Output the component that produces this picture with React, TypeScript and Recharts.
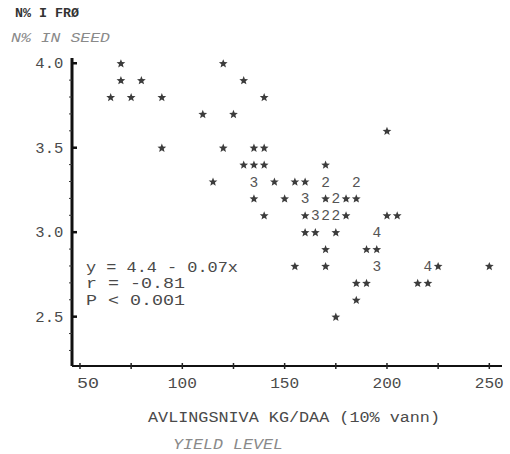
import React from 'react';
import { ScatterChart, Scatter, XAxis, YAxis } from 'recharts';

// Yield level (kg/daa) of each plotted symbol
const yieldLevel = [
  70, 120,
  70, 80, 130,
  65, 75, 90, 140,
  110, 125,
  200,
  90, 120, 135, 140,
  130, 135, 140, 170,
  115, 135, 145, 155, 160, 170, 185,
  135, 150, 160, 170, 175, 180, 185,
  140, 160, 165, 170, 175, 180, 200, 205,
  160, 165, 175, 195,
  170, 190, 195,
  155, 170, 195, 220, 225, 250,
  185, 190, 215, 220,
  185,
  175,
];
// N % in seed of each plotted symbol
const nInSeed = [
  4.0, 4.0,
  3.9, 3.9, 3.9,
  3.8, 3.8, 3.8, 3.8,
  3.7, 3.7,
  3.6,
  3.5, 3.5, 3.5, 3.5,
  3.4, 3.4, 3.4, 3.4,
  3.3, 3.3, 3.3, 3.3, 3.3, 3.3, 3.3,
  3.2, 3.2, 3.2, 3.2, 3.2, 3.2, 3.2,
  3.1, 3.1, 3.1, 3.1, 3.1, 3.1, 3.1, 3.1,
  3.0, 3.0, 3.0, 3.0,
  2.9, 2.9, 2.9,
  2.8, 2.8, 2.8, 2.8, 2.8, 2.8,
  2.7, 2.7, 2.7, 2.7,
  2.6,
  2.5,
];
// number of observations at each symbol (1 = star, >1 printed as digit)
const pointCount = [
  1, 1,
  1, 1, 1,
  1, 1, 1, 1,
  1, 1,
  1,
  1, 1, 1, 1,
  1, 1, 1, 1,
  1, 3, 1, 1, 1, 2, 2,
  1, 1, 3, 1, 2, 1, 1,
  1, 1, 3, 2, 2, 1, 1, 1,
  1, 1, 1, 4,
  1, 1, 1,
  1, 1, 3, 4, 1, 1,
  1, 1, 1, 1,
  1,
  1,
];

const xTickValues = [50, 75, 100, 125, 150, 175, 200, 225, 250];
const xTickLabels = ['50', '', '100', '', '150', '', '200', '', '250'];
const yTickValues = [2.3, 2.4, 2.5, 2.6, 2.7, 2.8, 2.9, 3.0, 3.1, 3.2, 3.3, 3.4, 3.5, 3.6, 3.7, 3.8, 3.9, 4.0];
const yMajorTicks = [2.5, 3.0, 3.5, 4.0];

const data = yieldLevel.map((x, i) => ({ x, y: nInSeed[i], n: pointCount[i] }));

const FONT = '"Liberation Mono", "DejaVu Sans Mono", monospace';
const TXT = '#4a4a4a';

function starPath(cx: number, cy: number, R: number, r: number) {
  const pts: string[] = [];
  for (let k = 0; k < 10; k++) {
    const a = -Math.PI / 2 + (k * Math.PI) / 5;
    const rad = k % 2 === 0 ? R : r;
    pts.push(`${(cx + rad * Math.cos(a)).toFixed(2)},${(cy + rad * Math.sin(a)).toFixed(2)}`);
  }
  return 'M' + pts.join('L') + 'Z';
}

const PointShape = (props: any) => {
  const { cx, cy, payload } = props;
  if (payload.n > 1) {
    return (
      <text x={cx} y={cy + 5} textAnchor="middle" fontFamily={FONT} fontSize={14.5} fill="#555">
        {payload.n}
      </text>
    );
  }
  return <path d={starPath(cx, cy + 0.5, 4.6, 2.0)} fill="#3c3c3c" />;
};

const XTick = (props: any) => {
  const { x, y, payload } = props;
  const idx = xTickValues.indexOf(payload.value);
  const label = idx >= 0 ? xTickLabels[idx] : '';
  return (
    <g>
      <line x1={x} x2={x} y1={y - 3} y2={y + 3} stroke="#222" strokeWidth={1.5} />
      {label && (
        <text
          x={x + (label.length === 2 ? 8 : 0)}
          y={y + 22}
          textAnchor="middle"
          fontFamily={FONT}
          fontSize={14.5}
          fill={TXT}
          textLength={label.length === 2 ? 22 : 29}
          lengthAdjust="spacingAndGlyphs"
        >
          {label}
        </text>
      )}
    </g>
  );
};

const YTick = (props: any) => {
  const { x, y, payload } = props;
  const v = payload.value as number;
  const major = yMajorTicks.some((m) => Math.abs(m - v) < 1e-6);
  return (
    <g>
      {major ? (
        <line x1={x} x2={x + 5} y1={y} y2={y} stroke="#111" strokeWidth={2.5} />
      ) : (
        <line x1={x - 3} x2={x} y1={y} y2={y} stroke="#333" strokeWidth={1} />
      )}
      {major && (
        <text
          x={x - 8.7}
          y={y + 5}
          textAnchor="end"
          fontFamily={FONT}
          fontSize={14.5}
          fill={TXT}
          textLength={28}
          lengthAdjust="spacingAndGlyphs"
        >
          {v.toFixed(1)}
        </text>
      )}
    </g>
  );
};

export default function App() {
  return (
    <div style={{ position: 'absolute', left: 0, top: 0, width: 510, height: 454, background: '#fff' }}>
      <ScatterChart width={510} height={454} margin={{ top: 58, right: 8, bottom: 58, left: 8 }}>
        <XAxis
          dataKey="x"
          type="number"
          domain={[46.1, 256.2]}
          ticks={xTickValues}
          interval={0}
          height={30}
          tickSize={0}
          tickMargin={0}
          tickLine={false}
          tick={<XTick />}
          axisLine={{ stroke: '#111', strokeWidth: 2 }}
          allowDataOverflow
        />
        <YAxis
          dataKey="y"
          type="number"
          domain={[2.208, 4.031]}
          ticks={yTickValues}
          interval={0}
          width={64}
          tickSize={0}
          tickMargin={0}
          tickLine={false}
          tick={<YTick />}
          axisLine={{ stroke: '#111', strokeWidth: 3 }}
          allowDataOverflow
        />
        <Scatter data={data} shape={<PointShape />} isAnimationActive={false} />
      </ScatterChart>
      <svg width={510} height={454} style={{ position: 'absolute', left: 0, top: 0, pointerEvents: 'none' }}>
        <text x={15} y={17} fontFamily={FONT} fontSize={13} fontWeight="bold" fill="#333" textLength={64} lengthAdjust="spacingAndGlyphs">
          N% I FRØ
        </text>
        <text x={11} y={42} fontFamily={FONT} fontSize={13} fontStyle="italic" fill="#8a8a8a" textLength={99} lengthAdjust="spacingAndGlyphs">
          N% IN SEED
        </text>
        <text x={86} y={272} fontFamily={FONT} fontSize={14} fill={TXT} textLength={152} lengthAdjust="spacingAndGlyphs">
          y = 4.4 - 0.07x
        </text>
        <text x={86} y={288} fontFamily={FONT} fontSize={14} fill={TXT} textLength={99} lengthAdjust="spacingAndGlyphs">
          r = -0.81
        </text>
        <text x={86} y={304.5} fontFamily={FONT} fontSize={14} fill={TXT} textLength={99} lengthAdjust="spacingAndGlyphs">
          P &lt; 0.001
        </text>
        <text x={148} y={422} fontFamily={FONT} fontSize={14.5} fill={TXT} textLength={292} lengthAdjust="spacingAndGlyphs">
          AVLINGSNIVA KG/DAA (10% vann)
        </text>
        <text x={173} y={449} fontFamily={FONT} fontSize={14} fontStyle="italic" fill="#8a8a8a" textLength={110} lengthAdjust="spacingAndGlyphs">
          YIELD LEVEL
        </text>
      </svg>
    </div>
  );
}
